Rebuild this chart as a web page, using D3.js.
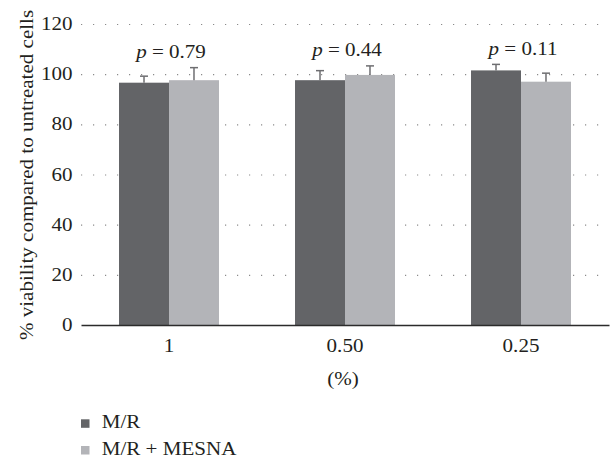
<!DOCTYPE html>
<html>
<head>
<meta charset="utf-8">
<script src="https://cdn.jsdelivr.net/npm/d3@7"></script>
<style>
  html, body { margin: 0; padding: 0; background: #fff; }
  svg { display: block; }
  text { font-family: "Liberation Serif", "Times New Roman", serif; fill: #231f20; }
</style>
</head>
<body>
<svg id="chart" width="611" height="460"></svg>
<script>
// Concentrations tested (%)
const categories = ["1", "0.50", "0.25"];
const seriesNames = ["M/R", "M/R + MESNA"];
// Mean viability (% of untreated cells)
const viabilityMR = [96.6, 97.6, 101.5];
const viabilityMRMesna = [97.6, 99.7, 97.0];
// Standard deviations
const errorMR = [2.6, 3.8, 2.4];
const errorMRMesna = [5.0, 3.6, 3.4];
// Two-sample p values per concentration
const pValues = ["0.79", "0.44", "0.11"];
const yTicks = [0, 20, 40, 60, 80, 100, 120];

const colors = ["#636467", "#b3b4b8"];
const errColor = "#6e6e71";
const FS = 18, SX = 1.17; // serif text, widened

const svg = d3.select("#chart");
const plotLeft = 81, plotRight = 609, plotTop = 24, plotBottom = 325;

const x0 = d3.scaleBand().domain(categories).range([plotLeft, plotRight]).paddingInner(0.432).paddingOuter(0.216);
const x1 = d3.scaleBand().domain(seriesNames).range([0, x0.bandwidth()]);
const y = d3.scaleLinear().domain([0, 120]).range([plotBottom, plotTop]);

const series = seriesNames.map((name, i) => ({
  name,
  color: colors[i],
  values: categories.map((c, j) => ({
    cat: c,
    v: i === 0 ? viabilityMR[j] : viabilityMRMesna[j],
    e: i === 0 ? errorMR[j] : errorMRMesna[j]
  }))
}));

// dotted horizontal grid
const grid = svg.append("g")
  .attr("transform", `translate(${plotLeft},0)`)
  .call(d3.axisLeft(y).tickValues(yTicks.filter(t => t > 0)).tickSize(-(plotRight - plotLeft - 3)).tickFormat(""));
grid.select(".domain").remove();
grid.selectAll(".tick line")
  .attr("stroke", "#8a8a8a")
  .attr("stroke-width", 1.1)
  .attr("stroke-dasharray", "1.2,10.8");

// bars
const groups = svg.append("g").selectAll("g")
  .data(series).join("g")
  .attr("fill", d => d.color);

groups.selectAll("rect")
  .data(d => d.values.map(v => ({ ...v, name: d.name })))
  .join("rect")
  .attr("x", d => x0(d.cat) + x1(d.name))
  .attr("y", d => y(d.v))
  .attr("width", x1.bandwidth())
  .attr("height", d => y(0) - y(d.v));

// error bars (upper only)
const errs = svg.append("g").attr("stroke", errColor).attr("stroke-width", 1.5);
series.forEach(s => {
  s.values.forEach(d => {
    const cx = x0(d.cat) + x1(s.name) + x1.bandwidth() / 2;
    errs.append("line").attr("x1", cx).attr("x2", cx).attr("y1", y(d.v)).attr("y2", y(d.v + d.e));
    errs.append("line").attr("x1", cx - 4).attr("x2", cx + 4).attr("y1", y(d.v + d.e)).attr("y2", y(d.v + d.e));
  });
});

// y axis tick labels
const yAxis = svg.append("g")
  .attr("transform", `translate(${plotLeft},0)`)
  .call(d3.axisLeft(y).tickValues(yTicks).tickSize(0).tickPadding(0));
yAxis.select(".domain").remove();
yAxis.selectAll("text")
  .attr("x", -7.2)
  .attr("dy", "0.31em")
  .attr("transform", `scale(${SX},1)`)
  .style("font-size", FS + "px");

// x axis
const xAxis = svg.append("g")
  .attr("transform", `translate(0,${plotBottom})`)
  .call(d3.axisBottom(x0).tickSize(0).tickSizeOuter(0).tickPadding(14));
xAxis.select(".domain").attr("stroke", "#2b2b2b").attr("stroke-width", 1.5);
xAxis.selectAll(".tick text")
  .attr("transform", `scale(${SX},1)`)
  .style("font-size", FS + "px");

function label(x, yy, str, anchor, rot) {
  const t = svg.append("text")
    .attr("transform", `translate(${x},${yy})${rot ? " rotate(-90)" : ""} scale(${SX},1)`)
    .attr("text-anchor", anchor)
    .style("font-size", FS + "px");
  if (str) t.text(str);
  return t;
}

// p values above each group
categories.forEach((c, j) => {
  const topVal = Math.max(viabilityMR[j] + errorMR[j], viabilityMRMesna[j] + errorMRMesna[j]);
  const t = label(x0(c) + x0.bandwidth() / 2 + 2, y(topVal) - 9.5, null, "middle");
  t.append("tspan").style("font-style", "italic").text("p");
  t.append("tspan").text(" = " + pValues[j]);
});

// axis titles
label(343, 385, "(%)", "middle");
label(33, 175, "% viability compared to untreated cells", "middle", true);

// legend
series.forEach((s, i) => {
  const ly = 428 + i * 26.7;
  svg.append("rect").attr("x", 81).attr("y", ly - 8.7).attr("width", 8.5).attr("height", 8.5).attr("fill", s.color);
  label(101.7, ly, s.name, "start");
});
</script>
</body>
</html>
